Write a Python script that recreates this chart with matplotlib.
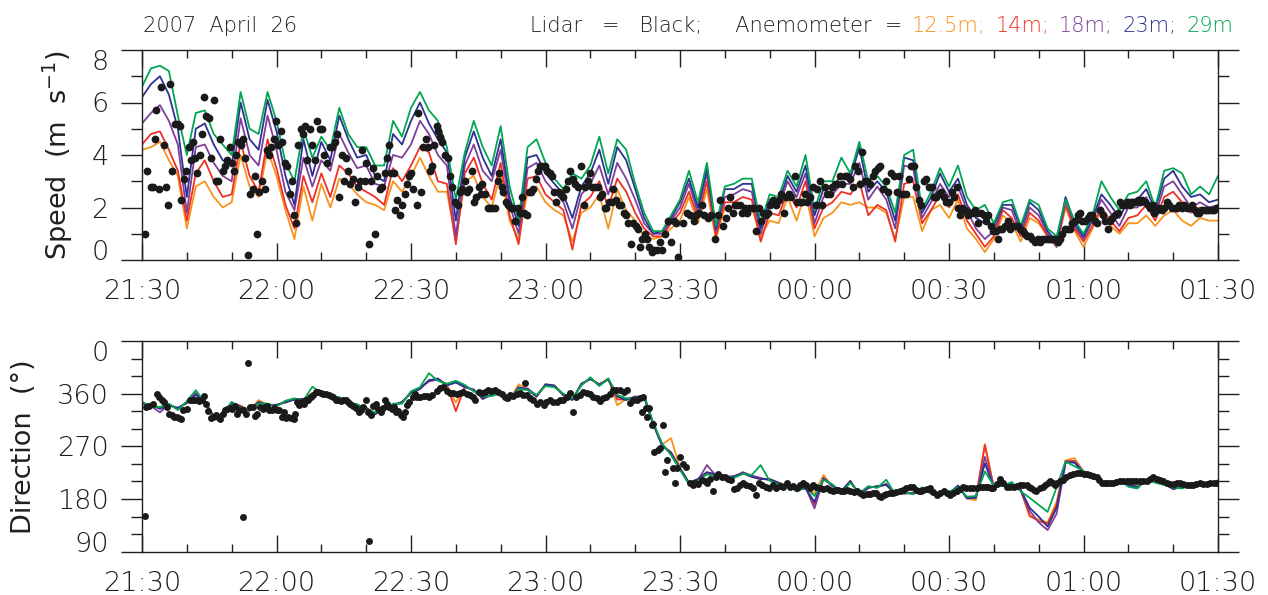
""" Lidar vs anemometer wind speed and direction, 2007 April 26 """
import numpy as np
import matplotlib
matplotlib.use("Agg")
import matplotlib.pyplot as plt
from matplotlib.ticker import FixedLocator, MultipleLocator

plt.rcParams['font.family'] = ['DejaVu Sans']
plt.rcParams['font.weight'] = 'light'
plt.rcParams['mathtext.default'] = 'regular'

INK = '#231f20'
DOT = '#1a1a1a'

# time axis: minutes after 21:30, anemometer sampled every 2 min
minutes = np.arange(0, 241, 2)
time_ticks = [0, 30, 60, 90, 120, 150, 180, 210, 240]
time_labels = ['21:30', '22:00', '22:30', '23:00', '23:30',
               '00:00', '00:30', '01:00', '01:30']

heights = ['12.5m', '14m', '18m', '23m', '29m']
colors = ['#f7941d', '#ee3124', '#7f3f98', '#2e3192', '#00a651']

# ---- anemometer speed (m/s) ----
spd_125 = [4.2, 4.3, 4.5, 3.8, 3.2, 1.2, 2.8, 3.0, 2.4, 2.0, 2.2, 4.0, 2.8, 2.4, 4.2, 3.2, 1.9, 0.8, 2.8, 1.5, 2.9, 2.0, 3.1, 2.9, 2.5, 2.2, 2.1, 1.9, 3.0, 2.6, 3.2,
           3.9, 3.2, 2.6, 2.6, 0.8, 3.0, 3.2, 2.4, 2.0, 3.3, 1.5, 0.8, 2.6, 2.8, 2.2, 1.9, 1.7, 0.7, 1.8, 2.0, 2.5, 1.2, 2.7, 1.9, 1.5, 0.9, 0.8, 0.9, 1.2, 1.5,
           2.4, 1.4, 2.7, 0.8, 2.0, 2.0, 2.1, 2.0, 0.9, 1.5, 1.4, 2.4, 1.5, 2.6, 0.9, 1.6, 1.8, 2.2, 2.1, 2.2, 2.0, 2.0, 1.8, 0.8, 2.4, 2.4, 1.1, 1.9, 2.1, 1.6,
           2.3, 1.2, 0.8, 0.3, 0.8, 1.7, 1.4, 0.7, 1.6, 1.4, 0.9, 0.5, 2.0, 1.1, 0.5, 1.2, 1.9, 1.3, 1.0, 1.4, 1.4, 1.7, 1.3, 1.7, 1.9, 1.5, 1.3, 1.6, 1.5, 1.5]
spd_14 = [4.4, 4.8, 4.9, 4.2, 3.4, 1.5, 3.3, 3.8, 3.0, 2.4, 2.5, 4.5, 3.2, 2.6, 4.6, 3.5, 2.1, 1.2, 3.2, 2.2, 3.3, 2.4, 3.6, 3.3, 2.8, 2.6, 2.4, 2.1, 3.5, 3.0, 3.6,
          4.3, 4.1, 3.0, 2.9, 0.6, 3.3, 3.9, 2.9, 2.3, 3.7, 1.7, 0.6, 3.1, 3.2, 2.5, 2.2, 1.9, 0.4, 2.1, 2.4, 3.0, 2.0, 3.1, 2.6, 1.8, 1.2, 0.9, 0.9, 1.4, 1.8,
          2.6, 1.6, 3.0, 0.9, 2.2, 2.2, 2.4, 2.3, 0.7, 1.8, 1.7, 2.6, 2.0, 3.0, 1.2, 2.0, 2.2, 2.6, 2.5, 3.0, 1.7, 2.1, 1.9, 0.7, 2.9, 3.0, 1.4, 1.9, 2.5, 2.0,
          2.5, 1.5, 1.0, 0.5, 0.9, 1.9, 1.6, 0.9, 1.8, 1.5, 0.9, 0.6, 2.1, 1.2, 0.7, 1.3, 2.0, 1.5, 1.1, 1.6, 1.7, 2.1, 1.5, 2.4, 2.6, 2.2, 1.8, 2.0, 1.9, 2.0]
spd_18 = [5.2, 5.6, 5.9, 5.3, 4.4, 1.8, 4.3, 4.4, 3.7, 3.2, 3.0, 5.4, 4.0, 3.6, 5.5, 4.2, 2.6, 1.9, 3.9, 2.8, 3.8, 3.4, 4.8, 4.1, 3.5, 3.6, 2.9, 2.8, 4.0, 3.9, 4.4,
          5.3, 4.8, 4.0, 3.6, 0.9, 3.6, 4.4, 3.4, 3.0, 4.2, 2.1, 1.0, 3.5, 3.7, 3.0, 2.6, 2.2, 1.2, 2.5, 2.9, 3.6, 2.5, 3.7, 3.1, 2.3, 1.4, 1.0, 1.0, 1.5, 2.0,
          2.9, 1.8, 3.3, 1.1, 2.4, 2.5, 2.7, 2.6, 1.0, 2.1, 2.0, 3.0, 2.4, 3.3, 1.4, 2.4, 2.5, 2.9, 2.9, 3.7, 2.3, 2.8, 2.3, 1.2, 3.6, 3.5, 1.6, 2.2, 2.9, 2.4,
          2.8, 1.9, 1.2, 0.8, 1.1, 2.0, 1.9, 1.0, 2.0, 1.7, 1.0, 0.5, 2.3, 1.3, 0.8, 1.5, 2.3, 1.8, 1.3, 2.0, 2.0, 2.4, 1.7, 2.8, 3.0, 2.5, 2.0, 2.2, 2.0, 2.1]
spd_23 = [6.2, 6.7, 7.0, 6.3, 5.0, 2.4, 5.0, 5.2, 4.4, 3.8, 3.6, 6.0, 4.6, 4.2, 6.1, 4.9, 3.2, 2.1, 4.6, 3.2, 4.5, 3.8, 5.5, 4.6, 3.9, 4.0, 3.2, 3.0, 4.8, 4.4, 5.3,
          6.0, 5.2, 4.6, 4.1, 1.5, 3.9, 4.9, 3.9, 3.2, 4.6, 2.4, 1.3, 3.9, 4.0, 3.3, 2.9, 2.5, 1.6, 2.8, 3.3, 4.2, 2.9, 4.3, 3.8, 2.7, 1.6, 1.0, 1.1, 1.6, 2.2,
          3.1, 2.0, 3.5, 1.2, 2.7, 2.7, 2.9, 2.9, 1.2, 2.3, 2.2, 3.2, 2.6, 3.6, 1.7, 2.7, 2.8, 3.2, 3.1, 4.3, 2.6, 3.0, 2.6, 1.5, 3.9, 3.8, 1.8, 2.4, 3.3, 2.6,
          3.1, 2.1, 1.6, 1.4, 1.3, 2.1, 2.1, 1.2, 2.2, 1.9, 1.1, 0.7, 2.4, 1.4, 0.9, 1.6, 2.5, 2.1, 1.6, 2.3, 2.3, 2.7, 1.9, 3.1, 3.4, 2.8, 2.4, 2.5, 2.2, 2.3]
spd_29 = [6.6, 7.3, 7.4, 7.2, 5.5, 4.0, 5.6, 5.7, 4.8, 4.4, 4.0, 6.4, 5.0, 4.8, 6.4, 5.3, 3.7, 3.0, 5.0, 3.9, 4.7, 4.2, 5.8, 4.8, 4.3, 4.3, 3.6, 3.6, 5.3, 4.7, 5.8,
          6.4, 5.7, 5.3, 4.3, 2.3, 4.1, 5.3, 4.3, 3.6, 5.1, 2.8, 1.5, 4.3, 4.6, 3.7, 3.1, 2.7, 3.3, 3.1, 3.6, 4.7, 3.3, 4.6, 4.2, 2.9, 1.8, 1.1, 1.1, 1.7, 2.3,
          3.4, 2.2, 3.7, 1.3, 2.8, 2.9, 3.1, 3.1, 1.4, 2.5, 2.4, 3.4, 2.8, 4.0, 1.9, 3.0, 3.0, 3.9, 3.3, 4.5, 3.0, 3.2, 2.8, 1.8, 4.0, 4.2, 1.9, 2.6, 3.5, 2.8,
          3.6, 2.4, 1.9, 2.1, 1.4, 2.2, 2.3, 1.3, 2.3, 2.1, 1.2, 0.9, 2.3, 1.5, 1.0, 1.7, 3.0, 2.4, 1.9, 2.5, 2.6, 3.0, 2.0, 3.4, 3.5, 3.3, 2.5, 2.8, 2.5, 3.2]

# ---- anemometer direction (deg, values above 360 wrap past north) ----
dir_125 = [343, 341, 337, 340, 335, 346, 362, 347, 321, 325, 343, 340, 332, 349, 341, 341, 345, 351, 351, 361, 363, 358, 351, 347, 341, 336, 327, 335, 340, 346, 361,
           368, 383, 384, 374, 345, 371, 367, 351, 358, 364, 350, 376, 367, 355, 376, 374, 357, 351, 377, 385, 376, 386, 340, 351, 355, 354, 310, 273, 284, 233,
           208, 214, 225, 222, 217, 219, 224, 218, 214, 214, 208, 203, 196, 198, 190, 221, 202, 194, 211, 186, 199, 202, 205, 189, 191, 189, 197, 191, 191, 189,
           203, 181, 178, 274, 199, 205, 206, 196, 150, 145, 140, 175, 246, 250, 227, 219, 208, 208, 211, 205, 201, 212, 211, 207, 197, 201, 207, 207, 205, 209]
dir_14 = [344, 340, 336, 341, 335, 344, 359, 346, 319, 324, 343, 337, 331, 345, 341, 340, 346, 350, 350, 360, 364, 357, 352, 346, 339, 335, 325, 334, 341, 345, 362,
          369, 382, 385, 375, 330, 372, 366, 352, 358, 363, 349, 370, 368, 356, 375, 373, 358, 350, 376, 386, 375, 385, 350, 350, 354, 355, 309, 272, 260, 232,
          207, 213, 225, 221, 218, 218, 225, 219, 215, 213, 207, 202, 195, 199, 170, 215, 203, 193, 210, 188, 200, 201, 205, 190, 190, 190, 198, 190, 190, 190,
          202, 182, 183, 272, 200, 204, 207, 195, 152, 142, 138, 170, 245, 245, 226, 218, 209, 207, 212, 203, 200, 212, 210, 206, 198, 200, 206, 208, 204, 210]
dir_18 = [345, 339, 328, 342, 333, 346, 361, 345, 322, 325, 345, 336, 333, 344, 342, 339, 347, 351, 349, 358, 362, 358, 353, 345, 341, 334, 327, 333, 342, 344, 363,
          370, 381, 384, 376, 381, 373, 365, 353, 357, 362, 350, 369, 369, 357, 374, 372, 359, 351, 375, 387, 374, 385, 357, 351, 353, 356, 310, 273, 257, 231,
          206, 212, 238, 220, 219, 217, 226, 220, 216, 212, 206, 203, 194, 200, 164, 214, 204, 192, 209, 189, 201, 200, 206, 191, 189, 191, 199, 189, 190, 191,
          201, 183, 184, 252, 201, 203, 208, 194, 160, 140, 127, 155, 242, 244, 227, 217, 210, 206, 213, 202, 199, 213, 209, 205, 199, 199, 205, 209, 203, 211]
dir_23 = [343, 341, 334, 340, 336, 344, 358, 347, 321, 323, 343, 338, 331, 346, 340, 341, 345, 350, 351, 359, 364, 356, 351, 347, 339, 336, 325, 335, 340, 346, 361,
          368, 383, 386, 374, 379, 371, 367, 351, 359, 364, 348, 371, 367, 355, 376, 374, 357, 349, 377, 385, 376, 384, 355, 349, 355, 354, 308, 271, 259, 233,
          208, 214, 226, 222, 217, 219, 224, 218, 214, 214, 208, 201, 196, 198, 175, 216, 202, 194, 211, 187, 199, 202, 204, 189, 191, 189, 197, 191, 191, 189,
          203, 181, 182, 241, 199, 205, 206, 196, 165, 150, 133, 165, 243, 242, 225, 219, 208, 208, 211, 204, 201, 211, 211, 207, 197, 201, 207, 207, 205, 209]
dir_29 = [346, 338, 337, 343, 332, 347, 366, 344, 318, 326, 346, 335, 334, 343, 343, 338, 348, 352, 348, 372, 361, 355, 354, 344, 342, 333, 328, 332, 343, 343, 364,
          371, 395, 382, 377, 382, 375, 364, 355, 356, 361, 351, 368, 366, 358, 373, 371, 360, 352, 374, 388, 373, 386, 358, 352, 352, 357, 311, 275, 255, 230,
          205, 211, 222, 219, 220, 216, 223, 221, 238, 211, 205, 204, 193, 201, 185, 213, 205, 191, 208, 190, 202, 199, 213, 188, 192, 188, 200, 192, 188, 192,
          200, 184, 185, 227, 203, 202, 209, 193, 182, 170, 158, 200, 244, 236, 228, 216, 211, 205, 214, 201, 198, 214, 208, 204, 200, 198, 204, 210, 202, 212]

# ---- lidar speed, (minute, m/s) ----
lidar_spd_h1 = [(0.6, 1.0), (1.2, 3.4), (2.0, 2.8), (2.5, 2.8), (2.8, 4.6), (3.2, 5.7), (3.7, 2.7), (4.3, 6.6), (4.9, 4.4), (5.4, 2.8),
                (5.8, 2.1), (6.3, 6.7), (6.8, 3.4), (7.3, 5.2), (8.0, 5.2), (8.4, 5.1), (8.8, 2.3), (9.4, 3.1), (9.9, 3.4), (10.4, 4.3),
                (10.9, 3.8), (11.4, 4.5), (11.9, 3.9), (12.3, 3.3), (12.9, 4.0), (13.4, 4.8), (13.9, 6.2), (14.3, 5.5), (14.9, 5.4), (15.3, 3.9),
                (16.0, 6.1), (16.4, 3.0), (16.9, 3.0), (17.4, 4.6), (18.1, 3.4), (18.6, 3.6), (19.0, 3.8), (19.6, 4.3), (20.1, 3.7), (20.5, 3.4),
                (21.0, 4.0), (21.4, 4.5), (22.0, 4.4), (22.5, 4.6), (23.0, 3.9), (23.7, 0.2), (24.2, 2.5), (24.8, 2.7), (25.3, 3.2), (25.7, 1.0),
                (26.2, 2.6), (26.8, 3.0), (27.4, 2.7), (27.9, 4.2), (28.3, 4.0), (28.8, 4.3), (29.4, 4.6), (29.8, 5.3), (30.3, 4.4), (30.9, 4.9),
                (31.3, 4.5), (31.8, 3.7), (32.3, 3.6), (32.9, 2.5), (33.5, 3.0), (33.9, 1.7), (34.4, 1.4), (34.9, 4.4), (35.4, 5.0), (35.9, 4.8),
                (36.4, 5.1), (36.9, 3.8), (37.4, 5.0), (37.9, 4.4), (38.5, 3.8), (39.0, 5.3), (39.6, 5.0), (40.1, 5.0), (40.7, 4.0), (41.3, 3.7),
                (41.9, 4.3), (42.4, 4.3), (43.0, 4.5), (43.4, 4.8), (44.0, 2.4), (44.5, 4.0), (45.1, 3.0), (45.6, 3.9), (46.0, 3.4), (46.5, 2.9),
                (47.1, 3.1), (47.6, 2.2), (48.1, 2.8), (48.6, 3.0), (49.0, 4.2), (49.7, 3.0), (50.0, 3.7), (50.6, 0.6), (51.0, 3.0), (51.5, 3.5),
                (52.0, 1.0), (52.5, 3.2), (53.0, 2.7), (53.5, 2.8), (54.1, 3.3), (54.6, 3.9), (55.0, 4.4), (55.6, 3.3), (56.1, 3.3), (56.5, 1.9),
                (56.9, 2.3), (57.5, 1.7), (58.1, 2.1), (58.6, 2.5), (59.0, 2.9), (59.5, 3.2), (60.1, 3.3)]
lidar_spd_h2 = [(60.5, 2.7), (61.3, 2.1), (61.6, 5.6), (62.2, 2.6), (62.7, 4.3), (63.3, 4.6), (63.7, 4.3), (64.2, 3.4), (64.6, 3.6), (65.2, 4.4),
                (65.7, 5.1), (66.1, 4.9), (66.5, 4.7), (66.9, 4.5), (67.6, 4.0), (68.2, 3.9), (68.7, 3.2), (69.2, 2.8), (69.8, 2.2), (70.4, 2.1),
                (70.9, 2.6), (71.4, 2.7), (72.0, 3.0), (72.4, 2.6), (72.9, 2.7), (73.5, 3.4), (74.0, 2.2), (74.5, 2.4), (75.2, 2.8), (75.6, 2.5),
                (75.9, 2.9), (76.5, 2.5), (77.1, 2.0), (77.6, 2.0), (78.1, 2.0), (78.7, 2.0), (79.3, 3.0), (79.7, 3.3), (80.2, 2.8), (80.6, 2.6),
                (81.1, 2.2), (81.7, 2.1), (82.3, 2.0), (82.8, 2.0), (83.2, 1.5), (83.8, 2.0), (84.3, 1.8), (84.8, 2.4), (85.3, 1.8), (85.8, 1.7),
                (86.3, 2.6), (86.8, 2.6), (87.3, 2.7), (87.8, 3.1), (88.3, 3.4), (88.8, 3.6), (89.3, 3.6), (89.9, 3.6), (90.4, 3.4), (91.0, 3.3),
                (91.4, 3.2), (91.9, 2.6), (92.4, 2.2), (92.9, 2.6), (93.4, 2.5), (94.0, 2.4), (94.5, 2.7), (95.1, 3.0), (95.5, 3.4), (96.1, 3.1),
                (96.6, 2.9), (97.2, 2.8), (97.9, 3.6), (98.5, 2.1), (98.8, 2.8), (99.4, 3.0), (99.9, 3.3), (100.4, 2.8), (101.0, 2.8), (101.6, 2.8),
                (102.2, 2.4), (102.7, 2.5), (103.2, 2.0), (103.6, 2.0), (104.2, 2.2), (104.8, 2.2), (105.1, 2.7), (105.7, 2.3), (106.3, 2.1), (106.8, 2.1),
                (107.4, 1.8), (107.9, 1.7), (108.5, 1.4), (109.1, 0.6), (109.6, 1.4), (110.1, 1.3), (110.6, 1.2), (111.1, 0.5), (111.6, 0.8), (112.1, 1.0),
                (112.6, 0.8), (113.1, 0.5), (113.7, 0.3), (114.1, 0.4), (114.8, 0.4), (115.5, 0.7), (116.0, 0.4), (116.6, 1.0), (117.3, 1.5), (118.0, 0.7),
                (118.7, 1.5), (119.2, 1.4), (119.6, 0.1)]
lidar_spd_h3 = [(120.7, 1.4), (121.6, 1.8), (122.3, 1.7), (123.1, 1.5), (123.5, 1.7), (124.2, 1.8), (124.9, 2.1), (125.4, 1.7), (126.2, 1.6), (126.9, 1.7),
                (127.9, 0.8), (128.5, 1.7), (129.0, 2.3), (129.6, 1.3), (130.2, 1.6), (130.7, 2.0), (131.2, 2.4), (131.8, 1.8), (132.3, 2.1), (132.7, 2.1),
                (133.3, 2.1), (133.8, 1.8), (134.4, 2.0), (134.9, 1.8), (135.5, 2.0), (136.1, 2.0), (136.6, 2.0), (136.9, 1.1), (137.6, 2.0), (138.1, 1.5),
                (138.6, 1.8), (139.2, 1.7), (139.7, 1.8), (140.1, 2.1), (140.7, 2.3), (141.5, 2.1), (142.1, 2.3), (142.6, 2.5), (143.1, 1.8), (143.7, 2.4),
                (144.3, 2.5), (144.8, 2.4), (145.6, 3.2), (146.1, 2.2), (146.7, 2.2), (147.3, 2.2), (147.8, 2.5), (148.3, 2.2), (148.9, 2.4), (149.7, 2.8),
                (150.3, 2.1), (150.6, 2.7), (151.2, 3.0), (151.7, 2.1), (152.3, 2.8), (152.8, 2.5), (153.4, 2.5), (154.0, 2.8), (154.5, 2.9), (155.1, 2.9),
                (155.7, 3.2), (156.2, 2.9), (156.7, 3.2), (157.3, 3.2), (157.9, 3.1), (158.6, 2.8), (159.1, 3.6), (159.7, 3.4), (160.2, 2.9), (160.7, 4.1),
                (161.2, 3.0), (161.7, 3.0), (162.3, 2.9), (163.0, 3.2), (163.6, 3.4), (164.1, 3.5), (164.6, 3.6), (165.3, 2.7), (165.9, 3.0), (166.4, 2.6),
                (167.1, 3.3), (167.7, 3.2), (168.3, 2.6), (168.8, 3.2), (169.4, 2.5), (169.9, 2.5), (170.5, 2.5), (171.1, 3.1), (171.6, 3.6), (172.1, 3.6),
                (172.7, 2.8), (173.3, 2.3), (173.8, 2.1), (174.4, 3.0), (174.9, 3.1), (175.5, 2.8), (176.1, 2.8), (176.6, 2.4), (177.2, 2.4), (177.8, 2.5),
                (178.3, 2.6), (178.8, 2.4), (179.4, 2.2)]
lidar_spd_h4 = [(180.0, 2.2), (180.6, 2.6), (181.2, 2.4), (181.7, 2.8), (181.9, 2.0), (182.5, 1.7), (183.0, 2.0), (183.6, 1.9), (184.2, 1.7), (184.7, 1.8),
                (185.2, 1.8), (185.8, 1.9), (186.2, 1.8), (186.5, 1.4), (187.1, 1.8), (187.7, 1.7), (188.2, 1.5), (188.8, 1.7), (189.4, 1.3), (189.9, 1.1),
                (190.4, 1.1), (190.9, 0.8), (191.4, 1.2), (191.9, 1.2), (192.5, 1.3), (193.1, 1.5), (193.6, 1.2), (194.1, 1.3), (194.7, 1.3), (195.3, 1.3),
                (195.8, 1.2), (196.4, 1.1), (196.9, 1.0), (197.5, 0.9), (198.0, 0.9), (198.6, 0.8), (199.2, 0.7), (199.8, 0.8), (200.3, 0.7), (200.8, 0.8),
                (201.4, 0.8), (202.0, 0.8), (202.5, 0.8), (203.0, 0.8), (203.6, 0.8), (204.3, 0.7), (204.8, 0.8), (205.3, 1.0), (205.9, 1.2), (206.5, 1.2),
                (207.0, 1.2), (207.5, 1.4), (208.1, 1.5), (208.7, 1.7), (209.2, 1.8), (209.7, 1.5), (210.3, 1.5), (210.9, 1.6), (211.4, 1.7), (211.9, 1.7),
                (212.5, 1.5), (213.1, 1.4), (213.7, 1.9), (214.4, 1.7), (214.9, 1.5), (215.4, 1.2), (215.9, 1.5), (216.4, 1.6), (217.0, 1.7), (217.6, 1.8),
                (218.1, 2.2), (218.6, 2.1), (219.2, 2.1), (219.8, 2.2), (220.4, 2.1), (220.9, 2.2), (221.5, 2.2), (222.1, 2.3), (222.6, 2.2), (223.1, 2.3),
                (223.7, 2.2), (224.3, 2.1), (224.8, 2.0), (225.4, 2.1), (225.8, 1.8), (226.3, 1.9), (226.9, 2.0), (227.4, 1.9), (228.0, 2.0), (228.6, 2.2),
                (229.1, 2.1), (229.7, 2.0), (230.3, 2.0), (230.8, 2.0), (231.4, 2.1), (231.9, 2.0), (232.5, 2.1), (233.0, 2.0), (233.6, 2.0), (234.2, 2.1),
                (234.8, 1.9), (235.3, 1.8), (235.8, 1.8), (236.4, 1.9), (237.0, 1.9), (237.5, 1.9), (238.1, 1.9), (238.6, 1.9), (239.2, 1.9), (239.7, 2.0)]

# ---- lidar direction, (minute, deg) ----
lidar_dir_h1 = [(0.7, 151), (1.0, 337), (1.6, 339), (2.5, 343), (3.3, 359), (3.9, 354), (4.4, 350), (4.9, 345), (5.5, 337), (6.1, 326),
                (6.6, 324), (7.1, 321), (7.7, 320), (8.3, 318), (8.8, 316), (9.2, 332), (10.0, 333), (10.6, 349), (11.1, 350), (11.6, 350),
                (12.2, 349), (12.8, 347), (13.3, 349), (13.8, 356), (14.3, 343), (14.8, 331), (15.3, 318), (15.9, 321), (16.5, 324), (17.0, 321),
                (17.4, 316), (18.0, 325), (18.5, 332), (19.0, 333), (19.6, 335), (20.1, 333), (20.7, 339), (21.3, 325), (21.7, 332), (22.5, 149),
                (22.6, 332), (23.2, 325), (23.7, 413), (24.1, 337), (24.7, 337), (25.2, 322), (25.7, 326), (26.3, 337), (26.9, 333), (27.4, 337),
                (27.8, 339), (28.4, 332), (28.9, 332), (29.4, 335), (30.0, 332), (30.6, 332), (31.2, 321), (31.7, 328), (32.1, 318), (32.6, 321),
                (33.2, 318), (33.8, 316), (34.2, 325), (34.5, 346), (35.1, 341), (35.6, 345), (36.1, 342), (36.6, 349), (37.1, 350), (37.6, 355),
                (38.2, 358), (38.8, 363), (39.3, 363), (39.9, 362), (40.4, 359), (41.0, 359), (41.6, 358), (42.1, 356), (42.7, 354), (43.3, 350),
                (43.8, 349), (44.3, 348), (44.9, 350), (45.5, 349), (46.0, 346), (46.5, 343), (47.1, 339), (47.7, 335), (48.3, 329), (48.8, 332),
                (49.4, 337), (50.0, 349), (50.5, 328), (50.6, 108), (51.0, 324), (51.6, 339), (52.2, 342), (52.7, 333), (53.2, 328), (53.8, 335),
                (54.2, 349), (54.7, 343), (55.2, 337), (55.7, 333), (56.2, 337), (56.7, 328), (57.2, 331), (57.7, 324), (58.3, 321), (58.7, 329),
                (59.2, 341), (59.6, 346), (60.4, 354), (60.9, 359), (61.4, 355)]
lidar_dir_h2 = [(62.0, 355), (62.8, 356), (63.5, 356), (64.1, 355), (64.7, 358), (65.7, 365), (66.5, 369), (67.2, 372), (68.0, 365), (68.7, 362),
                (69.4, 362), (70.2, 359), (70.9, 362), (71.7, 363), (72.4, 359), (73.2, 358), (73.8, 355), (74.3, 349), (75.1, 363), (75.8, 362),
                (76.5, 363), (77.2, 366), (77.9, 365), (78.7, 366), (79.5, 363), (80.2, 359), (80.9, 354), (81.5, 352), (82.1, 358), (82.8, 356),
                (83.6, 359), (84.3, 361), (84.9, 358), (85.4, 378), (85.9, 358), (86.5, 352), (87.3, 349), (88.0, 342), (88.8, 345), (89.7, 341),
                (90.2, 346), (91.0, 349), (91.7, 345), (92.5, 346), (93.2, 350), (94.0, 349), (94.7, 355), (95.4, 361), (96.2, 329), (96.9, 355),
                (97.7, 358), (98.4, 363), (99.2, 361), (99.9, 359), (100.7, 355), (101.4, 352), (102.1, 348), (102.9, 352), (103.6, 355), (104.4, 359),
                (105.1, 366), (105.8, 367), (106.6, 366), (107.4, 363), (108.1, 366), (108.8, 344), (109.6, 349), (110.3, 350), (111.1, 352), (111.5, 329),
                (111.8, 355), (112.4, 335), (112.7, 321), (113.1, 335), (113.7, 306), (114.0, 309), (114.1, 261), (115.0, 264), (115.5, 268), (116.1, 306),
                (116.6, 227), (117.2, 246), (118.4, 233), (118.9, 208), (119.4, 233), (120.0, 251), (120.7, 240), (121.4, 235)]
lidar_dir_h3 = [(122.2, 207), (122.8, 204), (123.4, 207), (124.0, 206), (124.8, 213), (125.5, 210), (126.1, 207), (126.8, 214), (127.4, 194), (128.0, 218),
                (128.5, 223), (129.3, 218), (130.0, 218), (130.7, 215), (131.4, 213), (132.0, 197), (132.7, 198), (133.3, 204), (134.1, 207), (134.8, 204),
                (135.6, 202), (136.3, 198), (136.9, 187), (137.7, 207), (138.4, 204), (139.2, 201), (139.9, 198), (140.7, 204), (141.4, 198), (142.2, 202),
                (143.0, 201), (143.8, 207), (144.5, 201), (145.3, 202), (146.0, 198), (146.8, 204), (147.5, 207), (148.2, 204), (149.0, 198), (149.7, 204),
                (150.4, 201), (151.2, 198), (151.9, 197), (152.7, 198), (153.4, 195), (154.1, 194), (154.7, 196), (155.3, 195), (156.0, 193), (156.5, 193),
                (157.2, 195), (158.0, 193), (158.7, 192), (159.4, 194), (160.1, 190), (160.9, 187), (161.6, 188), (162.3, 189), (163.0, 191), (163.8, 190),
                (164.4, 186), (164.9, 184), (165.5, 187), (166.0, 189), (166.8, 190), (167.5, 190), (168.2, 192), (169.0, 193), (169.7, 196), (170.5, 198),
                (171.2, 200), (172.0, 201), (172.6, 196), (173.2, 193), (173.8, 194), (174.3, 195), (175.0, 197), (175.8, 198), (176.5, 192), (177.3, 187),
                (178.0, 190), (178.8, 193), (179.5, 190)]
lidar_dir_h4 = [(180.2, 187), (180.9, 190), (181.7, 193), (182.4, 197), (183.2, 201), (183.9, 199), (184.7, 198), (185.4, 198), (186.2, 198), (186.9, 200),
                (187.6, 201), (188.2, 201), (188.8, 201), (189.4, 199), (189.9, 198), (190.6, 205), (191.4, 214), (192.1, 207), (192.9, 201), (193.6, 201),
                (194.4, 201), (195.1, 203), (195.8, 204), (196.5, 204), (197.3, 204), (197.9, 201), (198.4, 198), (199.0, 195), (199.5, 193), (200.3, 198),
                (200.9, 201), (201.4, 204), (202.0, 207), (202.5, 210), (203.1, 207), (203.6, 204), (204.2, 207), (204.8, 210), (205.5, 213), (206.2, 217),
                (207.0, 221), (207.7, 223), (208.5, 224), (209.2, 224), (210.0, 223), (210.7, 222), (211.5, 221), (212.2, 220), (212.9, 218), (213.5, 212),
                (214.1, 207), (214.7, 207), (215.2, 207), (215.9, 208), (216.6, 208), (217.3, 209), (218.1, 210), (218.8, 210), (219.6, 210), (220.3, 211),
                (221.1, 211), (221.8, 210), (222.6, 210), (223.3, 211), (224.1, 211), (224.8, 214), (225.6, 218), (226.3, 215), (227.1, 213), (227.8, 210),
                (228.6, 207), (229.3, 206), (230.1, 206), (230.8, 207), (231.5, 207), (232.2, 206), (233.0, 204), (233.7, 204), (234.5, 204), (235.2, 205),
                (236.0, 207), (236.7, 206), (237.5, 206), (238.2, 207), (239.0, 207), (239.7, 208)]

spd_ticks = [0, 2, 4, 6, 8]
dir_ticks = [90, 180, 270, 360, 450]
dir_tick_labels = ['90', '180', '270', '360', '0']


def style_axes(ax, yticks, ylabels, yminor, ylabel, label_x):
    ax.set_xlim(0, 240)
    ax.xaxis.set_major_locator(FixedLocator(time_ticks))
    ax.set_xticklabels(time_labels)
    ax.xaxis.set_minor_locator(MultipleLocator(10))
    ax.set_ylim(yticks[0], yticks[-1])
    ax.set_yticks(yticks)
    ax.set_yticklabels(ylabels)
    ax.yaxis.set_minor_locator(MultipleLocator(yminor))
    for sp in ax.spines.values():
        sp.set_color(INK)
        sp.set_linewidth(1.0)
    ax.tick_params(axis='x', which='both', direction='in', top=True, bottom=True,
                   colors=INK, width=1.0, labelsize=19.5, pad=14)
    ax.tick_params(axis='x', which='major', length=12)
    ax.tick_params(axis='x', which='minor', length=6)
    ax.tick_params(axis='y', which='both', direction='out', left=True, right=True,
                   colors=INK, width=1.0, labelsize=19.5, pad=9)
    ax.tick_params(axis='y', which='major', length=15)
    ax.tick_params(axis='y', which='minor', length=8)
    labs = ax.get_yticklabels()
    labs[0].set_va('baseline')
    labs[-1].set_va('top')
    ax.set_ylabel(ylabel, fontsize=19.5, color=INK)
    ax.yaxis.set_label_coords(label_x, 0.5)


def main():
    fig = plt.figure(figsize=(12.68, 5.95), dpi=100)
    ax_s = fig.add_axes([142 / 1268, 1 - 260 / 595, 1076 / 1268, 210 / 595])
    ax_d = fig.add_axes([142 / 1268, 1 - 551.7 / 595, 1076 / 1268, 210.7 / 595])

    speeds = [spd_125, spd_14, spd_18, spd_23, spd_29]
    dirs = [dir_125, dir_14, dir_18, dir_23, dir_29]
    for s, d, c in zip(speeds, dirs, colors):
        ax_s.plot(minutes, s, color=c, lw=1.3, zorder=2)
        ax_d.plot(minutes, d, color=c, lw=1.3, zorder=2)

    ls = np.array(lidar_spd_h1 + lidar_spd_h2 + lidar_spd_h3 + lidar_spd_h4)
    ld = np.array(lidar_dir_h1 + lidar_dir_h2 + lidar_dir_h3 + lidar_dir_h4)
    ax_s.plot(ls[:, 0], ls[:, 1], 'o', color=DOT, ms=5.6, mew=0, zorder=3)
    ax_d.plot(ld[:, 0], ld[:, 1], 'o', color=DOT, ms=5.0, mew=0, zorder=3)

    style_axes(ax_s, spd_ticks, [str(v) for v in spd_ticks], 1,
               'Speed  (m  s$^{-1}$)', -0.062)
    style_axes(ax_d, dir_ticks, dir_tick_labels, 30,
               'Direction  (°)', -0.098)

    # header line: date on the left, colour key chained leftwards from the right
    fig.text(143 / 1268, 1 - 32 / 595, '2007  April  26', fontsize=15,
             color=INK, ha='left', va='baseline')
    parts = [('Lidar   =   Black;     Anemometer  =', INK)]
    for i, (h, c) in enumerate(zip(heights, colors)):
        parts.append((h + (';' if i < len(heights) - 1 else ''), c))
    prev = fig.text(1233 / 1268, 1 - 32 / 595, parts[-1][0], fontsize=15,
                    color=parts[-1][1], ha='right', va='baseline')
    for txt, c in reversed(parts[:-1]):
        prev = fig.add_artist(matplotlib.text.Annotation(
            txt, xy=(0, 0), xycoords=prev, xytext=(-7, 0),
            textcoords='offset points', fontsize=15, color=c,
            ha='right', va='bottom'))
    fig.savefig('out.png', dpi=100)


if __name__ == '__main__':
    main()
